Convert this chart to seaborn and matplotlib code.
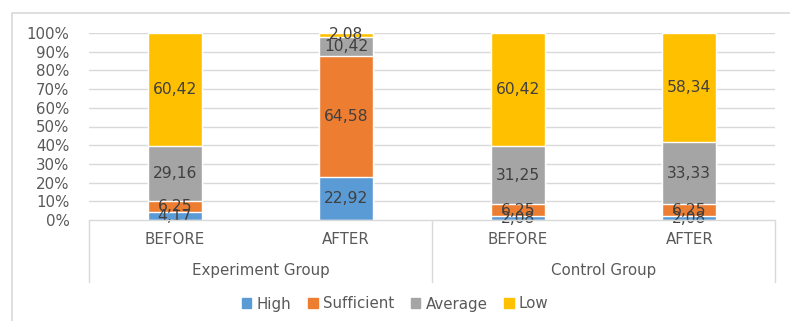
import numpy as np
import pandas as pd
import matplotlib
matplotlib.use('Agg')
import matplotlib.pyplot as plt
import matplotlib.patches as mpatches
import seaborn as sns

## ===================================================================== ##

groups = ['Experiment Group', 'Control Group']
phases = ['BEFORE', 'AFTER', 'BEFORE', 'AFTER']
series = ['High', 'Sufficient', 'Average', 'Low']
high = [4.17, 22.92, 2.08, 2.08]
sufficient = [6.25, 64.58, 6.25, 6.25]
average = [29.16, 10.42, 31.25, 33.33]
low = [60.42, 2.08, 60.42, 58.34]
colors = ['#5B9BD5', '#ED7D31', '#A5A5A5', '#FFC000']

## ===================================================================== ##

sns.set_style('white')
plt.rcParams['font.family'] = ['DejaVu Sans']

df = pd.DataFrame({'pos': range(len(phases)), 'High': high, 'Sufficient': sufficient,
                   'Average': average, 'Low': low})
cum = df[series].cumsum(axis=1)

fig = plt.figure(figsize=(7.9, 3.21), dpi=100)
ax = fig.add_axes([89/790, 1 - 220/321, (775 - 89)/790, (220 - 33)/321])

txt = '#595959'
grid = '#D9D9D9'
fs = 10.8

for y in np.arange(10, 101, 10):
    ax.axhline(y, color=grid, lw=1, zorder=0)

# draw cumulative bars from top to bottom so each segment shows
for s, c in reversed(list(zip(series, colors))):
    sns.barplot(x=df['pos'], y=cum[s], color=c, width=0.315, ax=ax,
                saturation=1, zorder=2, native_scale=False)

for i in range(len(phases)):
    base = 0.
    for s in series:
        v = df.loc[i, s]
        ax.text(i, base + v / 2., '{0:.2f}'.format(v).replace('.', ','),
                ha='center', va='center', fontsize=11.2, color='#404040', zorder=3)
        base += v

ax.set_xlim(-0.5, 3.5)
ax.set_ylim(0, 100)
ax.set_yticks(np.arange(0, 101, 10))
ax.set_yticklabels(['{0:d}%'.format(int(v)) for v in np.arange(0, 101, 10)],
                   color=txt, fontsize=fs)
ax.tick_params(axis='y', length=0, pad=14)
ax.set_xticks([])
ax.set_xlabel('')
ax.set_ylabel('')
for sp in ax.spines.values():
    sp.set_visible(False)

# bottom axis line and the two-level category axis
trans = ax.get_xaxis_transform()
ax.plot([-0.5, 3.5], [0, 0], color=grid, lw=1, clip_on=False, zorder=4)
y_sep = -(282 - 220) / (220 - 33)
for xs in [-0.5, 1.5, 3.5]:
    ax.plot([xs, xs], [0, y_sep], color=grid, lw=1, transform=trans, clip_on=False)
for i, p in enumerate(phases):
    ax.text(i, -(240 - 220) / (220 - 33), p, transform=trans, ha='center', va='center',
            fontsize=fs, color=txt)
for j, g in enumerate(groups):
    ax.text(0.5 + 2 * j, -(271 - 220) / (220 - 33), g, transform=trans, ha='center',
            va='center', fontsize=fs, color=txt)

handles = [mpatches.Patch(color=c, label=s) for s, c in zip(series, colors)]
fig.legend(handles=handles, loc='center', bbox_to_anchor=(0.5, 1 - 304/321), ncol=4,
           frameon=False, fontsize=fs, handlelength=0.65, handleheight=0.65,
           handletextpad=0.35, columnspacing=1.1, labelcolor=txt)

# outer chart border
fig.add_artist(mpatches.Rectangle((12/790, -0.1), 1.0, 1 - 13/321 + 0.1, fill=False,
                                  edgecolor='#D9D9D9', lw=1.2, transform=fig.transFigure))

fig.savefig('out.png', dpi=100)
